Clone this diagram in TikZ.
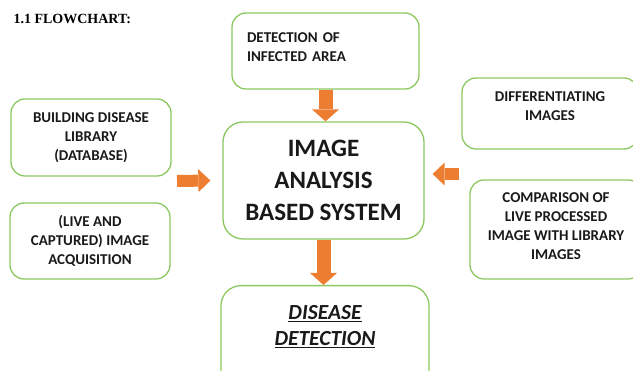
\documentclass[tikz,border=0pt]{standalone}
\usepackage{fontspec}
\setmainfont{Carlito}
\newfontfamily\titlefont{Liberation Serif}
\usetikzlibrary{arrows.meta}
\definecolor{boxgreen}{RGB}{140,200,95}
\definecolor{arroworange}{RGB}{237,125,49}
\definecolor{inkgray}{RGB}{25,25,25}

\begin{document}
\begin{tikzpicture}[x=1pt, y=-1pt,
  box/.style={draw=boxgreen, line width=1.3pt, rounded corners=14pt, text=inkgray,
    align=center, inner sep=0pt, font=\bfseries\fontsize{15}{19}\selectfont},
  blockarrow/.style={color=arroworange, line width=14pt, -{Triangle[length=12pt,width=27pt,line width=0pt]}},
  sidearrow/.style={color=arroworange, line width=12pt, -{Triangle[length=12pt,width=23pt,line width=0pt]}}]
  \useasboundingbox (0,0) rectangle (633,371);
  \clip (0,0) rectangle (633,371);
  \path (10,24)       node[anchor=base west, font=\titlefont\bfseries\fontsize{14}{17}\selectfont] (title) {1.1 FLOWCHART:}
        (325.5,51)    node[box, minimum width=187pt, minimum height=76pt, text width=157pt, align=left, text depth=27pt] (detect) {DETECTION OF\\INFECTED AREA}
        (91,137.5)    node[box, minimum width=160pt, minimum height=77pt] (build) {BUILDING DISEASE\\LIBRARY\\(DATABASE)}
        (90,241)      node[box, minimum width=160pt, minimum height=76pt] (live) {(LIVE AND\\CAPTURED) IMAGE\\ACQUISITION}
        (323.5,180.5) node[box, minimum width=201pt, minimum height=117pt, rounded corners=20pt, font=\bfseries\fontsize{25}{32}\selectfont] (center) {IMAGE\\ANALYSIS\\BASED SYSTEM}
        (550,113.5)   node[box, minimum width=176pt, minimum height=71pt, text depth=15pt] (diff) {DIFFERENTIATING\\IMAGES}
        (556,229.5)   node[box, minimum width=172pt, minimum height=99pt, text depth=7pt] (comp) {COMPARISON OF\\LIVE PROCESSED\\IMAGE WITH LIBRARY\\IMAGES}
        (325,285)     node[box, anchor=north, minimum width=208pt, inner ysep=20pt, text depth=90pt, rounded corners=20pt, font=\bfseries\itshape\fontsize{21.5}{26}\selectfont] (disease) {\underline{DISEASE}\\\underline{DETECTION}};
  \coordinate (lfrom) at (177,181);
  \coordinate (rfrom) at (459,174);
  \draw [blockarrow] (detect.south) -- (detect.south |- center.north);
  \draw [blockarrow] (center.south) -- (center.south |- disease.north);
  \draw [sidearrow] (lfrom) -- ([xshift=-12pt]center.west);
  \draw [sidearrow] (rfrom) -- ([xshift=8pt,yshift=6.5pt]center.east);
\end{tikzpicture}
\end{document}
